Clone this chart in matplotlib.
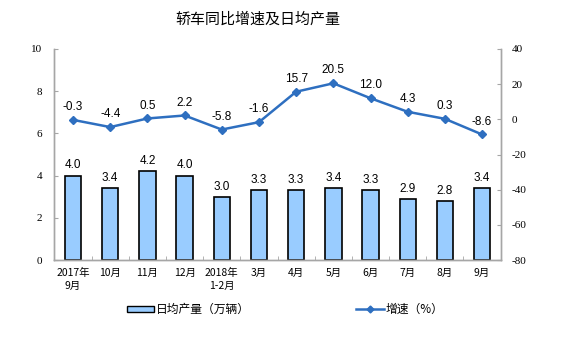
import matplotlib
matplotlib.use("Agg")
import numpy as np
import matplotlib.pyplot as plt
from matplotlib.lines import Line2D
from matplotlib.patches import Patch

months = ["2017年\n9月", "10月", "11月", "12月", "2018年\n1-2月", "3月",
          "4月", "5月", "6月", "7月", "8月", "9月"]
daily_output = [4.0, 3.4, 4.2, 4.0, 3.0, 3.3, 3.3, 3.4, 3.3, 2.9, 2.8, 3.4]
growth = [-0.3, -4.4, 0.5, 2.2, -5.8, -1.6, 15.7, 20.5, 12.0, 4.3, 0.3, -8.6]
left_ticks = [0, 2, 4, 6, 8, 10]
right_ticks = [-80, -60, -40, -20, 0, 20, 40]

cjk = ["Noto Sans CJK SC", "DejaVu Sans"]
plt.rcParams["font.family"] = cjk

bar_color = "#99CCFF"
line_color = "#2E6FC0"
spine_color = "#A6A6A6"

fig = plt.figure(figsize=(5.67, 3.5), dpi=100)
ax = fig.add_axes([0.096, 0.257, 0.787, 0.603])
ax2 = ax.twinx()

x = np.arange(len(months))
ax.bar(x, daily_output, width=0.44, color=bar_color, edgecolor="black", linewidth=1.2, zorder=2)
for xi, v in zip(x, daily_output):
    ax.annotate("%.1f" % v, (xi, v), xytext=(0, 3), textcoords="offset points",
                ha="center", va="bottom", fontsize=8.5, family="Liberation Sans")

ax2.plot(x, growth, color=line_color, linewidth=1.8, marker="D", markersize=4, zorder=3)
for xi, v in zip(x, growth):
    ax2.annotate("%.1f" % v, (xi, v), xytext=(0, 5), textcoords="offset points",
                 ha="center", va="bottom", fontsize=8.5, family="Liberation Sans")

ax.set_xlim(-0.5, len(months) - 0.5)
ax.set_ylim(0, 10)
ax2.set_ylim(-80, 40)
ax.set_yticks(left_ticks)
ax2.set_yticks(right_ticks)
ax.set_yticklabels([str(t) for t in left_ticks], family="Liberation Serif", fontsize=8)
ax2.set_yticklabels([str(t) for t in right_ticks], family="Liberation Serif", fontsize=8)

ax.set_xticks(x)
ax.set_xticklabels(months, fontsize=7.5, linespacing=1.3)
ax.set_xticks(np.arange(0.5, len(months) - 0.5, 1), minor=True)
ax.tick_params(axis="x", which="major", length=0, pad=6)
ax.tick_params(axis="x", which="minor", direction="in", length=3, color=spine_color)
ax.tick_params(axis="y", direction="in", length=3, color=spine_color, pad=9)
ax2.tick_params(axis="y", direction="in", length=3, color=spine_color, pad=8)

for a in (ax, ax2):
    a.spines["top"].set_visible(False)
    for s in ("left", "right", "bottom"):
        a.spines[s].set_color(spine_color)
        a.spines[s].set_linewidth(1.0)

fig.text(0.455, 0.945, "轿车同比增速及日均产量", ha="center", va="center", fontsize=10.8)

bar_handle = Patch(facecolor=bar_color, edgecolor="black", linewidth=1.0)
line_handle = Line2D([], [], color=line_color, linewidth=1.8, marker="D", markersize=3.5)
fig.legend([bar_handle], ["日均产量（万辆）"], loc="center left", bbox_to_anchor=(0.205, 0.115),
           frameon=False, fontsize=8.5, handlelength=2.3, handleheight=0.5, handletextpad=0.2)
fig.legend([line_handle], ["增速（%）"], loc="center left", bbox_to_anchor=(0.61, 0.115),
           frameon=False, fontsize=8.5, handlelength=2.3, handletextpad=0.2)

fig.savefig("out.png", dpi=100)
